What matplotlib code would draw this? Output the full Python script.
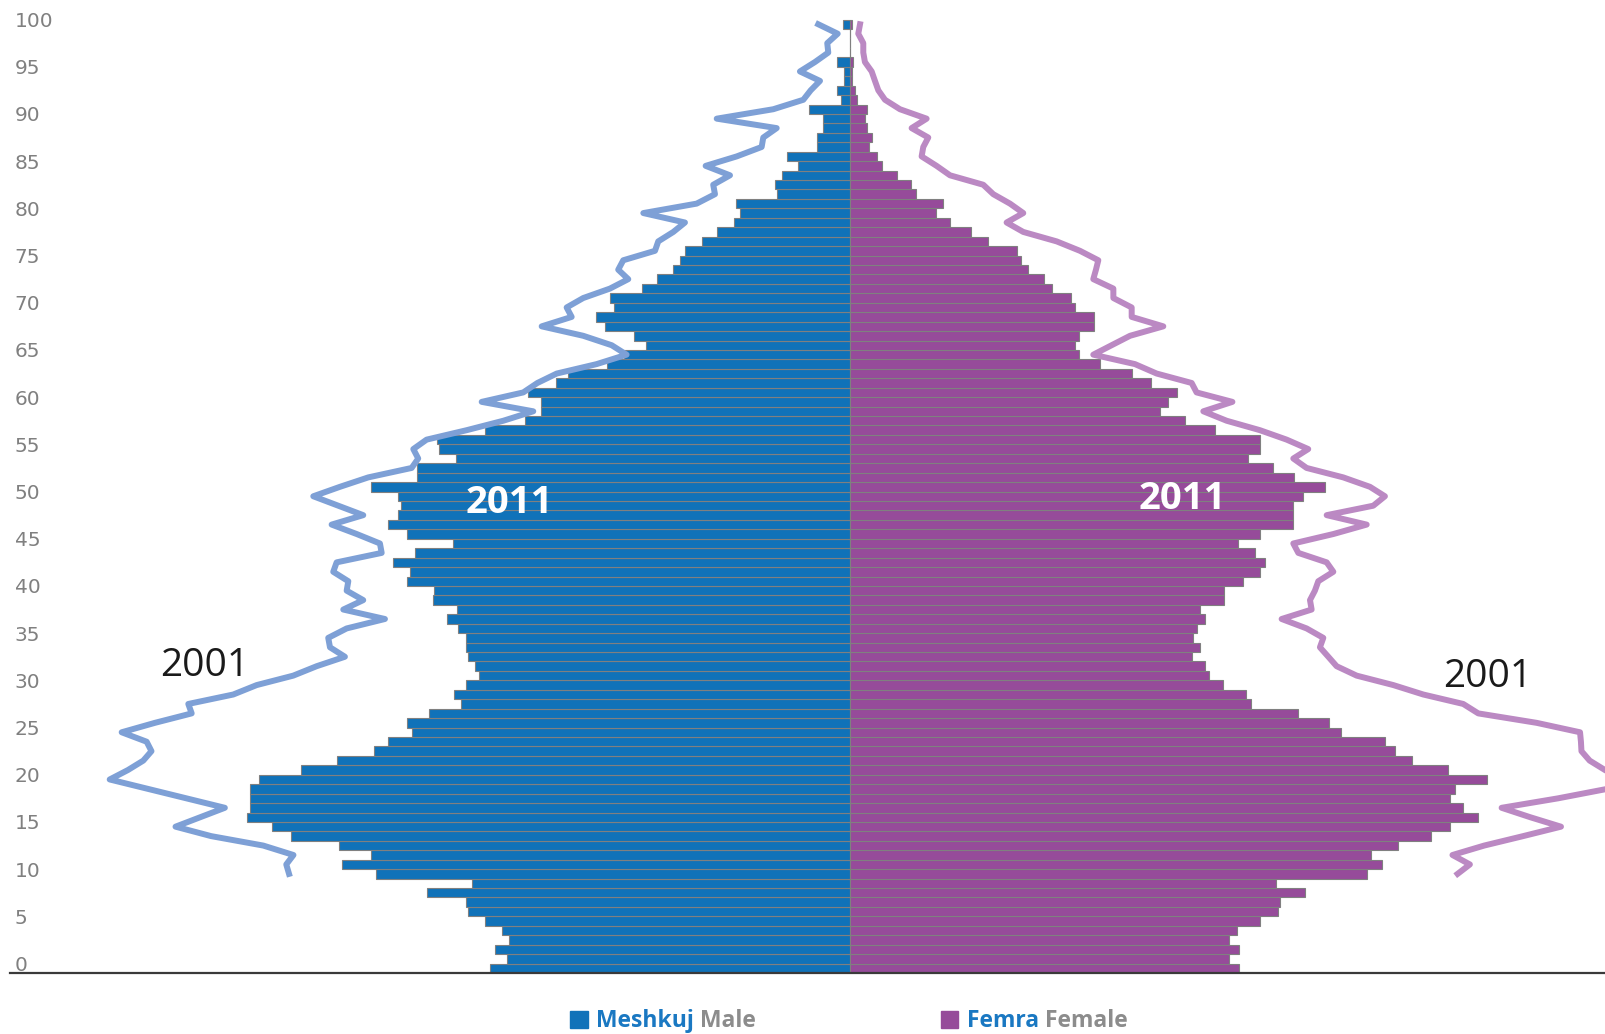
import matplotlib.pyplot as plt
from matplotlib.patches import Rectangle

# age groups 0..100, 2011 census (bars)
ages = list(range(0, 101))
male_2011 = [
    351.5, 334.4, 346.2, 332.8, 339.2, 356.4, 373.0, 374.6, 413.1, 368.7,
    463.0, 495.7, 467.8, 498.9, 545.5, 564.2, 588.9, 585.7, 585.7, 585.7,
    577.1, 536.4, 501.0, 464.6, 450.7, 427.6, 432.4, 410.5, 379.4, 386.9,
    374.6, 362.2, 365.5, 373.0, 375.1, 375.1, 382.6, 393.3, 383.1, 407.3,
    406.2, 432.4, 429.2, 446.4, 424.4, 387.4, 432.4, 450.7, 441.0, 438.3,
    441.0, 467.8, 422.8, 422.8, 384.2, 401.4, 403.0, 355.8, 316.7, 301.7,
    301.7, 314.6, 287.0, 275.0, 237.3, 220.0, 198.9, 210.9, 239.3, 248.1,
    230.0, 234.2, 203.1, 188.0, 172.1, 165.7, 161.2, 143.9, 129.8, 112.9,
    107.1, 111.3, 71.2, 72.6, 66.0, 50.7, 61.5, 32.1, 32.1, 26.3,
    26.3, 40.0, 8.7, 12.0, 5.5, 5.5, 12.0, 0.0, 0.0, 0.0,
    6.2,
]
female_2011 = [
    380.5, 370.5, 380.5, 370.5, 378.6, 400.6, 418.7, 420.6, 445.4, 416.3,
    505.9, 520.2, 509.3, 536.0, 568.4, 586.5, 613.6, 599.4, 586.5, 591.2,
    622.7, 585.1, 549.3, 532.6, 523.1, 479.7, 468.7, 437.7, 392.5, 387.7,
    364.8, 351.5, 347.2, 334.8, 342.4, 335.3, 339.5, 347.2, 342.4, 365.8,
    365.8, 384.8, 400.6, 406.3, 395.8, 379.1, 400.6, 433.0, 433.0, 433.0,
    442.5, 464.9, 434.0, 413.9, 389.1, 400.6, 400.6, 356.7, 328.1, 302.8,
    311.4, 319.5, 294.0, 275.7, 244.4, 224.3, 219.8, 224.6, 238.5, 238.5,
    220.0, 216.8, 198.0, 190.0, 174.7, 167.0, 164.0, 135.5, 118.6, 98.1,
    84.4, 90.9, 64.5, 60.0, 46.0, 31.6, 26.4, 18.9, 22.2, 16.7,
    15.0, 17.3, 7.5, 5.2, 2.5, 2.5, 3.5, 0.0, 0.0, 0.0,
    2.0,
]

# 2001 census, shifted by ten years (lines)
ages_2001 = list(range(10, 101))
male_2001 = [
    547.6, 550.3, 543.3, 572.8, 623.7, 658.5, 634.4, 610.3, 647.8, 685.3,
    722.8, 705.0, 690.0, 682.0, 686.7, 711.1, 678.6, 642.7, 646.0, 602.1,
    579.2, 543.5, 520.6, 493.0, 507.6, 509.3, 491.3, 453.9, 494.6, 475.1,
    491.3, 489.7, 504.4, 501.1, 457.1, 458.8, 481.5, 506.0, 475.1, 499.5,
    523.9, 497.9, 470.2, 427.8, 421.4, 426.2, 413.2, 374.1, 338.3, 309.0,
    359.4, 318.8, 305.0, 286.1, 247.1, 217.8, 232.4, 260.2, 300.8, 271.5,
    276.4, 260.2, 234.1, 216.2, 226.0, 221.1, 190.1, 186.9, 172.2, 160.8,
    201.5, 149.4, 131.5, 133.2, 116.8, 140.6, 110.3, 85.9, 84.3, 71.2,
    129.8, 74.5, 45.2, 38.0, 28.9, 48.5, 33.8, 20.8, 21.8, 11.6,
    30.6,
]
female_2001 = [
    594.0, 606.0, 589.0, 620.0, 658.0, 695.0, 665.0, 637.0, 692.0, 740.0,
    755.0, 738.0, 723.0, 715.0, 714.5, 713.6, 671.2, 614.2, 599.5, 560.5,
    531.2, 495.4, 475.8, 467.7, 459.5, 462.8, 446.5, 422.1, 451.4, 449.8,
    454.6, 457.9, 472.6, 466.1, 438.4, 433.5, 472.6, 505.2, 466.1, 511.6,
    523.0, 508.4, 482.3, 446.5, 433.5, 448.1, 427.0, 400.9, 368.4, 345.6,
    374.0, 339.0, 334.2, 300.0, 278.8, 238.1, 256.0, 274.0, 306.5, 275.6,
    275.6, 257.7, 257.7, 238.1, 240.7, 243.0, 225.1, 202.3, 169.7, 153.4,
    169.7, 156.7, 140.4, 130.6, 98.1, 85.0, 70.4, 72.0, 76.9, 60.6,
    75.3, 49.2, 34.6, 28.1, 24.8, 21.6, 15.0, 13.4, 13.4, 8.5,
    10.2,
]

tick_ages = [0, 5, 10, 15, 20, 25, 30, 35, 40, 45, 50,
             55, 60, 65, 70, 75, 80, 85, 90, 95, 100]

BLUE = '#1072b9'
PURPLE = '#964b9a'
EDGE = '#808080'
LBLUE = '#7ea0d6'
LPURPLE = '#bb89c3'

W, H = 1605, 1034
fig = plt.figure(figsize=(W / 100, H / 100), dpi=100)
ax = fig.add_axes([10 / W, 61 / H, 1 - 10 / W, 973 / H])

ax.barh(ages, [-v for v in male_2011], height=1.0, color=BLUE,
        edgecolor=EDGE, linewidth=0.8, zorder=2)
ax.barh(ages, female_2011, height=1.0, color=PURPLE,
        edgecolor=EDGE, linewidth=0.8, zorder=2)

ax.plot([-v for v in male_2001], ages_2001, color=LBLUE, lw=4.3, zorder=3)
ax.plot(female_2001, ages_2001, color=LPURPLE, lw=4.3, zorder=3)

ax.set_xlim(-820.2, 738)
ax.set_ylim(-0.5, 102.57)

for s in ['top', 'left', 'right']:
    ax.spines[s].set_visible(False)
ax.spines['bottom'].set_color('#3a3a3a')
ax.spines['bottom'].set_linewidth(1.6)
ax.spines['bottom'].set_zorder(4)
ax.set_xticks([])

# labels sit on the upper edge of each age bar
ax.set_yticks([a + 0.5 for a in tick_ages])
ax.set_yticklabels([str(a) for a in tick_ages])
ax.tick_params(axis='y', length=0, pad=-3.5, labelsize=14.5, labelcolor='#808080')
for lab in ax.get_yticklabels():
    lab.set_horizontalalignment('left')

ax.text(-332.6, 48.2, '2011', color='white', fontsize=27.5, fontweight='bold',
        family='Open Sans', ha='center', va='baseline', zorder=5)
ax.text(325.5, 48.7, '2011', color='white', fontsize=27.5, fontweight='bold',
        family='Open Sans', ha='center', va='baseline', zorder=5)
ax.text(-630, 30.96, '2001', color='#1a1a1a', fontsize=28,
        family='Open Sans', ha='center', va='baseline', zorder=5)
ax.text(623.2, 29.77, '2001', color='#1a1a1a', fontsize=28,
        family='Open Sans', ha='center', va='baseline', zorder=5)

# legend
LEG_BLUE = '#1a78c2'
LEG_GRAY = '#8c8c8c'
for x0, c, first, second in [(570, BLUE, 'Meshkuj', 'Male'),
                             (940.7, PURPLE, 'Femra', 'Female')]:
    fig.patches.append(Rectangle((x0 / W, 1 - 1028 / H), 17.5 / W, 17.5 / H,
                                 transform=fig.transFigure, color=c))
    t1 = fig.text((x0 + 26.5) / W, 1 - 1027 / H, first + ' ', color=LEG_BLUE,
                  fontsize=16.5, fontweight='bold', family='Open Sans',
                  ha='left', va='baseline')
    ax.annotate(second, xy=(1, 0), xycoords=t1, color=LEG_GRAY,
                fontsize=16.5, fontweight='bold', family='Open Sans',
                ha='left', va='bottom', annotation_clip=False)

fig.savefig('out.png', dpi=100)
